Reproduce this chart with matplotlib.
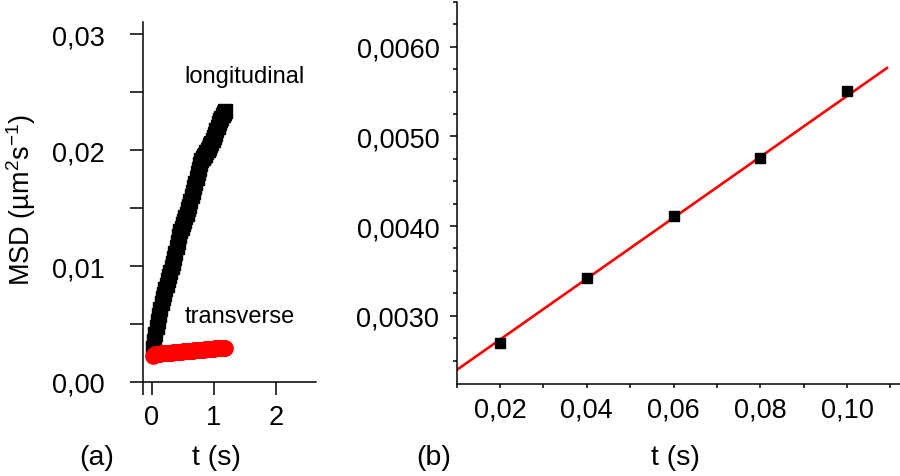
import matplotlib
matplotlib.use("Agg")
import matplotlib.pyplot as plt
import numpy as np
from matplotlib.ticker import FixedLocator, FuncFormatter

plt.rcParams['font.family'] = ['Liberation Sans', 'DejaVu Sans']
plt.rcParams['mathtext.default'] = 'regular'

# ---------------- data: panel (a) ----------------
t_a = [0.02, 0.04, 0.06, 0.08, 0.10, 0.12, 0.14, 0.16, 0.18, 0.20,
       0.22, 0.24, 0.26, 0.28, 0.30, 0.32, 0.34, 0.36, 0.38, 0.40,
       0.42, 0.44, 0.46, 0.48, 0.50, 0.52, 0.54, 0.56, 0.58, 0.60,
       0.62, 0.64, 0.66, 0.68, 0.70, 0.72, 0.74, 0.76, 0.78, 0.80,
       0.82, 0.84, 0.86, 0.88, 0.90, 0.92, 0.94, 0.96, 0.98, 1.00,
       1.02, 1.04, 1.06, 1.08, 1.10, 1.12, 1.14, 1.16, 1.18]
msd_longitudinal = [0.0029, 0.0035, 0.0041, 0.0047, 0.0053, 0.0058, 0.0063, 0.0068, 0.0072, 0.0076,
                    0.0080, 0.0084, 0.0088, 0.0091, 0.0095, 0.0099, 0.0103, 0.0107, 0.0111, 0.0116,
                    0.0121, 0.0126, 0.0130, 0.0133, 0.0136, 0.0139, 0.0142, 0.0145, 0.0149, 0.0152,
                    0.0156, 0.0160, 0.0164, 0.0168, 0.0172, 0.0176, 0.0180, 0.0184, 0.0188, 0.0191,
                    0.0193, 0.0195, 0.0196, 0.0198, 0.0200, 0.0202, 0.0204, 0.0206, 0.0209, 0.0211,
                    0.0214, 0.0217, 0.0220, 0.0223, 0.0226, 0.0228, 0.0230, 0.0232, 0.0234]
msd_transverse = [0.00228, 0.00234, 0.00238, 0.00240, 0.00242, 0.00244, 0.00245, 0.00246, 0.00247, 0.00248,
                  0.00249, 0.00250, 0.00251, 0.00252, 0.00253, 0.00254, 0.00255, 0.00256, 0.00257, 0.00258,
                  0.00259, 0.00260, 0.00261, 0.00262, 0.00263, 0.00264, 0.00265, 0.00266, 0.00267, 0.00268,
                  0.00269, 0.00270, 0.00271, 0.00272, 0.00273, 0.00274, 0.00275, 0.00276, 0.00277, 0.00278,
                  0.00279, 0.00280, 0.00281, 0.00282, 0.00283, 0.00284, 0.00285, 0.00286, 0.00287, 0.00288,
                  0.00289, 0.00289, 0.00290, 0.00290, 0.00291, 0.00291, 0.00292, 0.00292, 0.00293]
a_xticks = [0, 1, 2]
a_yticks = [0.00, 0.01, 0.02, 0.03]
a_yminor = [0.005, 0.015, 0.025]

# ---------------- data: panel (b) ----------------
t_b = [0.02, 0.04, 0.06, 0.08, 0.10]
msd_b = [0.00270, 0.00342, 0.00411, 0.00476, 0.00551]
fit_slope = 0.03395
fit_intercept = 0.002055
fit_t_range = [0.0100, 0.1092]
b_xticks = [0.02, 0.04, 0.06, 0.08, 0.10]
b_yticks = [0.0030, 0.0040, 0.0050, 0.0060]

W, H = 900, 477
fig = plt.figure(figsize=(9, 4.77), dpi=100)

def px_axes(l, r, t, b):
    return [l / W, 1 - b / H, (r - l) / W, (b - t) / H]

TICK_FS = 19.5

# ---------------- panel (a) ----------------
ax1 = fig.add_axes(px_axes(143.3, 316, 23, 383))
ax1.plot(t_a, msd_longitudinal, ls='none', marker='s', ms=10.5, color='black', mec='black', zorder=3)
ax1.plot(t_a, msd_transverse, ls='none', marker='o', ms=11, color='#ff0000', mec='#ff0000', zorder=4)
ax1.set_xlim(-0.135, 2.64)
ax1.set_ylim(0.0, 0.03104)
for s in ['top', 'right']:
    ax1.spines[s].set_visible(False)
for s in ['left', 'bottom']:
    ax1.spines[s].set_linewidth(1.1)
ax1.xaxis.set_major_locator(FixedLocator(a_xticks))
ax1.xaxis.set_minor_locator(FixedLocator([-0.135]))
ax1.xaxis.set_major_formatter(FuncFormatter(lambda v, p: f"{v:.0f}"))
ax1.yaxis.set_major_locator(FixedLocator(a_yticks))
ax1.yaxis.set_minor_locator(FixedLocator(a_yminor))
ax1.yaxis.set_major_formatter(FuncFormatter(lambda v, p: f"{v:.2f}".replace('.', ',')))
ax1.tick_params(axis='both', which='both', direction='out', length=9.5, width=1.1, labelsize=TICK_FS)
ax1.tick_params(axis='y', which='major', pad=18)
ax1.tick_params(axis='x', which='major', pad=6)
ax1.text(0.524, 0.02584, 'longitudinal', fontsize=17, ha='left', va='baseline')
ax1.text(0.524, 0.00515, 'transverse', fontsize=17, ha='left', va='baseline')

# ---------------- panel (b) ----------------
ax2 = fig.add_axes(px_axes(456.7, 899.5, 2.7, 385))
fit_t = np.array(fit_t_range)
ax2.plot(fit_t, fit_intercept + fit_slope * fit_t, color='#ff0000', lw=1.9, zorder=2)
ax2.plot(t_b, msd_b, ls='none', marker='s', ms=6.5, color='black', zorder=3)
ax2.set_xlim(0.0100, 0.1121)
ax2.set_ylim(0.002238, 0.006502)
for s in ['top', 'right']:
    ax2.spines[s].set_visible(False)
for s in ['left', 'bottom']:
    ax2.spines[s].set_linewidth(1.1)
ax2.xaxis.set_major_locator(FixedLocator(b_xticks))
ax2.xaxis.set_minor_locator(FixedLocator([0.01, 0.03, 0.05, 0.07, 0.09, 0.11]))
ax2.xaxis.set_major_formatter(FuncFormatter(lambda v, p: f"{v:.2f}".replace('.', ',')))
ax2.yaxis.set_major_locator(FixedLocator(b_yticks))
ax2.yaxis.set_minor_locator(FixedLocator([0.0025, 0.00275, 0.00325, 0.0035, 0.00375, 0.00425,
                                          0.0045, 0.00475, 0.00525, 0.0055, 0.00575, 0.00625, 0.0065]))
ax2.yaxis.set_major_formatter(FuncFormatter(lambda v, p: f"{v:.4f}".replace('.', ',')))
ax2.tick_params(axis='both', which='both', direction='out', width=1.1, labelsize=TICK_FS)
ax2.tick_params(axis='y', which='major', length=5, pad=7.5)
ax2.tick_params(axis='y', which='minor', length=3)
ax2.tick_params(axis='x', which='both', length=3, pad=6)

# ---------------- figure texts ----------------
fig.text(21 / W, 1 - 199.5 / H, 'MSD (µm$^2$s$^{-1}$)', rotation=90, fontsize=19.5,
         ha='center', va='center')
fig.text(97 / W, 1 - 458 / H, '(a)', fontsize=20.5, ha='center', va='center')
fig.text(216 / W, 1 - 458 / H, 't (s)', fontsize=20.5, ha='center', va='center')
fig.text(433.6 / W, 1 - 458 / H, '(b)', fontsize=20.5, ha='center', va='center')
fig.text(675.6 / W, 1 - 458 / H, 't (s)', fontsize=20.5, ha='center', va='center')

fig.savefig('out.png', dpi=100)
